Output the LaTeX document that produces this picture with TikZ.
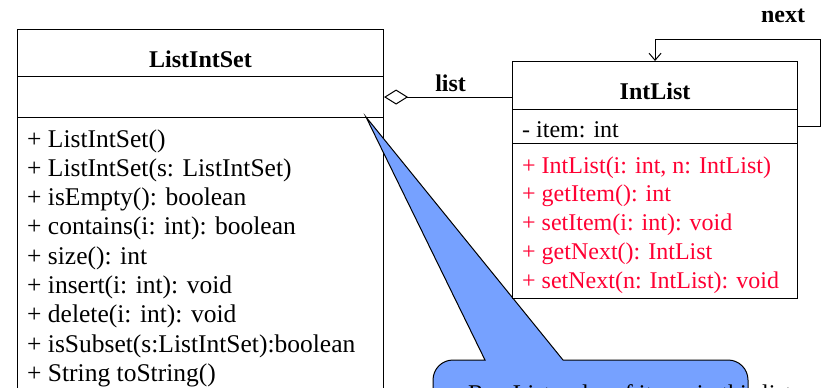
\documentclass[tikz,border=0pt]{standalone}
\usepackage{fontspec}
\setmainfont{Liberation Serif}
\usetikzlibrary{arrows.meta}

\definecolor{opred}{RGB}{255,0,51}
\definecolor{noteblue}{RGB}{118,161,255}

\tikzset{
  compart/.style={draw,fill=white,line width=1.1pt,anchor=north west,inner sep=0pt},
  ttl/.style={font=\fontsize{24}{24}\selectfont\bfseries},
  member/.style={anchor=base west,inner sep=0pt,font=\fontsize{24}{24}\selectfont},
  bigmember/.style={member,font=\fontsize{25.5}{25.5}\selectfont},
  note/.style={draw,fill=noteblue,line width=1pt},
}

\begin{document}
\begin{tikzpicture}[x=1pt,y=-1pt]
      \useasboundingbox (0,0) rectangle (830,388);

      % ListIntSet class
      \begin{scope}[every node/.style={compart}]
        \node (set)     at (17,29)  [minimum width=366pt,minimum height=47pt] {};
        \node (setattr) at (17,76)  [minimum width=366pt,minimum height=41pt] {};
        \node (setops)  at (17,117) [minimum width=366pt,minimum height=300pt] {};
      \end{scope}

      % callout
      \filldraw[note] (433,420) [rounded corners=20pt] -- (433,360) [sharp corners] -- (485,360)
        -- (366,117) -- (563,360) [rounded corners=20pt] -- (748,360) -- (748,420);
      \node[member,anchor=base west] (notetxt) at (468,401) {Rep List order of items in this list};

      % IntList class
      \begin{scope}[every node/.style={compart}]
        \node (list)     at (512,61)  [minimum width=285pt,minimum height=48pt] {};
        \node (listattr) at (512,109) [minimum width=285pt,minimum height=34pt] {};
        \node (listops)  at (512,143) [minimum width=285pt,minimum height=155pt] {};
      \end{scope}

      \node[ttl] (settitle)  at ([yshift=-6pt]set.center)  {ListIntSet};
      \node[ttl] (listtitle) at ([yshift=-6pt]list.center) {IntList};

      \begin{scope}[every node/.style={bigmember}]
        \node (m1) at (27,147)   {+ ListIntSet()};
        \node (m2) at (27,176.3) {+ ListIntSet(s: ListIntSet)};
        \node (m3) at (27,205.6) {+ isEmpty(): boolean};
        \node (m4) at (27,234.9) {+ contains(i: int): boolean};
        \node (m5) at (27,264.2) {+ size(): int};
        \node (m6) at (27,293.5) {+ insert(i: int): void};
        \node (m7) at (27,322.8) {+ delete(i: int): void};
        \node (m8) at (27,352.1) {+ isSubset(s:ListIntSet):boolean};
        \node (m9) at (27,381.4) {+ String toString()};
      \end{scope}

      \node[member] (item) at (522,137) {- item: int};
      \begin{scope}[every node/.style={member,text=opred}]
        \node (n1) at (522,173)   {+ IntList(i: int, n: IntList)};
        \node (n2) at (522,201.8) {+ getItem(): int};
        \node (n3) at (522,230.6) {+ setItem(i: int): void};
        \node (n4) at (522,259.4) {+ getNext(): IntList};
        \node (n5) at (522,288.2) {+ setNext(n: IntList): void};
      \end{scope}

      % associations
      \draw[line width=1pt,{Diamond[open,length=24pt,width=15pt]}-]
        (setattr.east) -- (setattr.east -| list.west)
        node[ttl,above=1pt,pos=.52] (listlbl) {list};
      \draw[line width=1pt,-{Straight Barb[length=7pt,width=12pt]}]
        (listattr.east) -- ++(22,0) |- ([yshift=22pt]list.north) -- (list.north);
      \node[ttl] (nextlbl) at (783,16) {next};

    \end{tikzpicture}
\end{document}
